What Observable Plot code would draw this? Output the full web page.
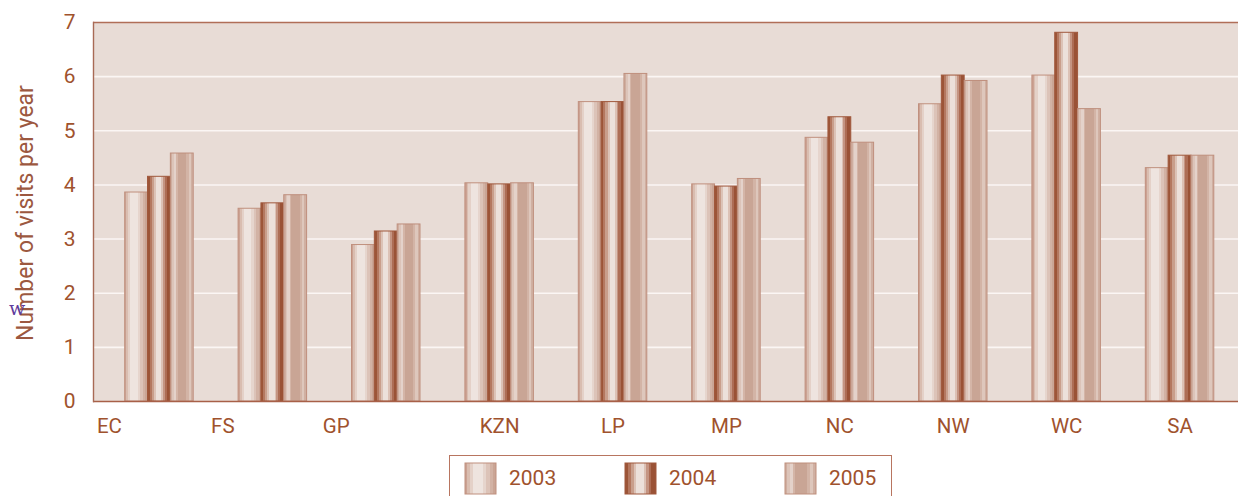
<!DOCTYPE html>
<html>
<head>
<meta charset="utf-8">
<script src="https://cdn.jsdelivr.net/npm/d3@7"></script>
<script src="https://cdn.jsdelivr.net/npm/@observablehq/plot@0.6"></script>
<style>
  html, body { margin: 0; padding: 0; background: #ffffff; }
  #wrap { position: relative; width: 1238px; height: 496px; overflow: hidden; font-family: Roboto, "Liberation Sans", sans-serif; }
  #legend { position: absolute; left: 449px; top: 455px; width: 443px; height: 52px; border: 1.5px solid #b87560; box-sizing: border-box; }
  .item { position: absolute; top: 6px; height: 32px; }
  .item svg { position: absolute; left: 0; top: 0; }
  .item span { position: absolute; left: 45px; top: 0; line-height: 32px; font-size: 21px; color: #a0522d; }
  #w { position: absolute; left: 9px; top: 297px; font-family: "DejaVu Serif", "Liberation Serif", serif; font-size: 19px; color: #5e3c9c; }
</style>
</head>
<body>
<svg width="0" height="0" style="position:absolute">
  <defs>
    <linearGradient id="g2003" x1="0" x2="1" y1="0" y2="0">
      <stop offset="0" stop-color="#cba293"/><stop offset="0.07" stop-color="#cba293"/>
      <stop offset="0.07" stop-color="#d9bdb0"/><stop offset="0.15" stop-color="#d9bdb0"/>
      <stop offset="0.15" stop-color="#e4d1c8"/><stop offset="0.25" stop-color="#e4d1c8"/>
      <stop offset="0.25" stop-color="#eee4df"/><stop offset="0.58" stop-color="#eee4df"/>
      <stop offset="0.58" stop-color="#e6d5cd"/><stop offset="0.68" stop-color="#e6d5cd"/>
      <stop offset="0.68" stop-color="#dcc3b8"/><stop offset="0.8" stop-color="#dcc3b8"/>
      <stop offset="0.8" stop-color="#d2b2a4"/><stop offset="0.9" stop-color="#d2b2a4"/>
      <stop offset="0.9" stop-color="#caa595"/><stop offset="1" stop-color="#caa595"/>
    </linearGradient>
    <linearGradient id="g2004" x1="0" x2="1" y1="0" y2="0">
      <stop offset="0" stop-color="#9c5538"/><stop offset="0.1" stop-color="#9c5538"/>
      <stop offset="0.1" stop-color="#b47860"/><stop offset="0.19" stop-color="#b47860"/>
      <stop offset="0.19" stop-color="#c99e8b"/><stop offset="0.28" stop-color="#c99e8b"/>
      <stop offset="0.28" stop-color="#dcc2b6"/><stop offset="0.37" stop-color="#dcc2b6"/>
      <stop offset="0.37" stop-color="#ece0da"/><stop offset="0.6" stop-color="#ece0da"/>
      <stop offset="0.6" stop-color="#dcc1b5"/><stop offset="0.68" stop-color="#dcc1b5"/>
      <stop offset="0.68" stop-color="#c49482"/><stop offset="0.76" stop-color="#c49482"/>
      <stop offset="0.76" stop-color="#ad6d55"/><stop offset="0.85" stop-color="#ad6d55"/>
      <stop offset="0.85" stop-color="#9a5236"/><stop offset="1" stop-color="#9a5236"/>
    </linearGradient>
    <linearGradient id="g2005" x1="0" x2="1" y1="0" y2="0">
      <stop offset="0" stop-color="#cfaea0"/><stop offset="0.08" stop-color="#cfaea0"/>
      <stop offset="0.08" stop-color="#dcc4b9"/><stop offset="0.16" stop-color="#dcc4b9"/>
      <stop offset="0.16" stop-color="#e4d2ca"/><stop offset="0.26" stop-color="#e4d2ca"/>
      <stop offset="0.26" stop-color="#d4b5a7"/><stop offset="0.33" stop-color="#d4b5a7"/>
      <stop offset="0.33" stop-color="#c9a595"/><stop offset="0.7" stop-color="#c9a595"/>
      <stop offset="0.7" stop-color="#d3b4a6"/><stop offset="0.8" stop-color="#d3b4a6"/>
      <stop offset="0.8" stop-color="#dec7bc"/><stop offset="0.9" stop-color="#dec7bc"/>
      <stop offset="0.9" stop-color="#d0b0a2"/><stop offset="1" stop-color="#d0b0a2"/>
    </linearGradient>
  </defs>
</svg>
<div id="wrap">
  <div id="chart"></div>
  <div id="w">w</div>
  <div id="legend"></div>
</div>
<script>
const categories = ["EC", "FS", "GP", "KZN", "LP", "MP", "NC", "NW", "WC", "SA"];
const years = ["2003", "2004", "2005"];
const v2003 = [3.86, 3.56, 2.89, 4.03, 5.53, 4.01, 4.87, 5.49, 6.02, 4.31];
const v2004 = [4.15, 3.66, 3.14, 4.01, 5.53, 3.97, 5.25, 6.02, 6.81, 4.54];
const v2005 = [4.58, 3.81, 3.27, 4.03, 6.05, 4.11, 4.78, 5.92, 5.40, 4.54];
const yTicks = [0, 1, 2, 3, 4, 5, 6, 7];
const gridTicks = [1, 2, 3, 4, 5, 6];
const yLabel = "Number of visits per year";

const series = {"2003": v2003, "2004": v2004, "2005": v2005};
const fills = {"2003": "url(#g2003)", "2004": "url(#g2004)", "2005": "url(#g2005)"};
const strokes = {"2003": "#c0907e", "2004": "#a0583c", "2005": "#bf8f7d"};

const rows = [];
years.forEach(y => categories.forEach((c, i) => rows.push({cat: c, year: y, value: series[y][i]})));

const brown = "#a0522d";
const xRange = [102.25, 1236.25];
const padInner = 0.396, padOuter = 0.198;
const step = (xRange[1] - xRange[0]) / (categories.length - padInner + 2 * padOuter);
const bw = step * (1 - padInner);
const barW = bw / years.length;

const barMarks = years.map((y, k) => Plot.barY(rows.filter(r => r.year === y), {
  x: "cat", y: "value",
  fill: fills[y], stroke: strokes[y], strokeWidth: 1,
  insetLeft: k * barW, insetRight: (years.length - 1 - k) * barW
}));

const chart = Plot.plot({
  width: 1238,
  height: 440,
  marginLeft: 93,
  marginRight: 0,
  marginTop: 22,
  marginBottom: 39,
  style: {fontFamily: "Roboto, 'Liberation Sans', sans-serif", fontSize: "20px", color: brown, background: "transparent"},
  x: {domain: categories, range: xRange, paddingInner: padInner, paddingOuter: padOuter, round: false, axis: null},
  y: {domain: [0, 7], axis: null},
  marks: [
    Plot.frame({fill: "#e8dcd6", stroke: "none"}),
    Plot.gridY(gridTicks, {stroke: "#fbf6f4", strokeOpacity: 1, strokeWidth: 1.6}),
    ...barMarks,
    Plot.ruleY([0], {stroke: "#a86048", strokeWidth: 1.6}),
    Plot.ruleY([7], {stroke: "#b06e58", strokeWidth: 1.6}),
    Plot.frame({anchor: "left", stroke: "#a86a55", strokeWidth: 1.4}),
    Plot.axisY(yTicks, {tickSize: 0, tickPadding: 18, fontSize: 21, tickFormat: d => String(d), label: null}),
    Plot.axisX(categories.slice(0, 3), {tickSize: 0, tickPadding: 17, fontSize: 20.5, dx: -50, label: null}),
    Plot.axisX(categories.slice(3), {tickSize: 0, tickPadding: 17, fontSize: 20.5, label: null}),
    Plot.text([yLabel], {frameAnchor: "left", textAnchor: "middle", rotate: -90, dx: -68, dy: 1, fontSize: 23, fill: "#9c5840"})
  ]
});
document.getElementById("chart").appendChild(chart);

const legend = document.getElementById("legend");
years.forEach((y, k) => {
  const item = document.createElement("div");
  item.className = "item";
  item.style.left = (14 + k * 160) + "px";
  item.innerHTML = `<svg width="33" height="33"><rect x="1" y="1" width="31" height="31" fill="${fills[y]}" stroke="${strokes[y]}" stroke-width="1"/></svg><span>${y}</span>`;
  legend.appendChild(item);
});
</script>
</body>
</html>
